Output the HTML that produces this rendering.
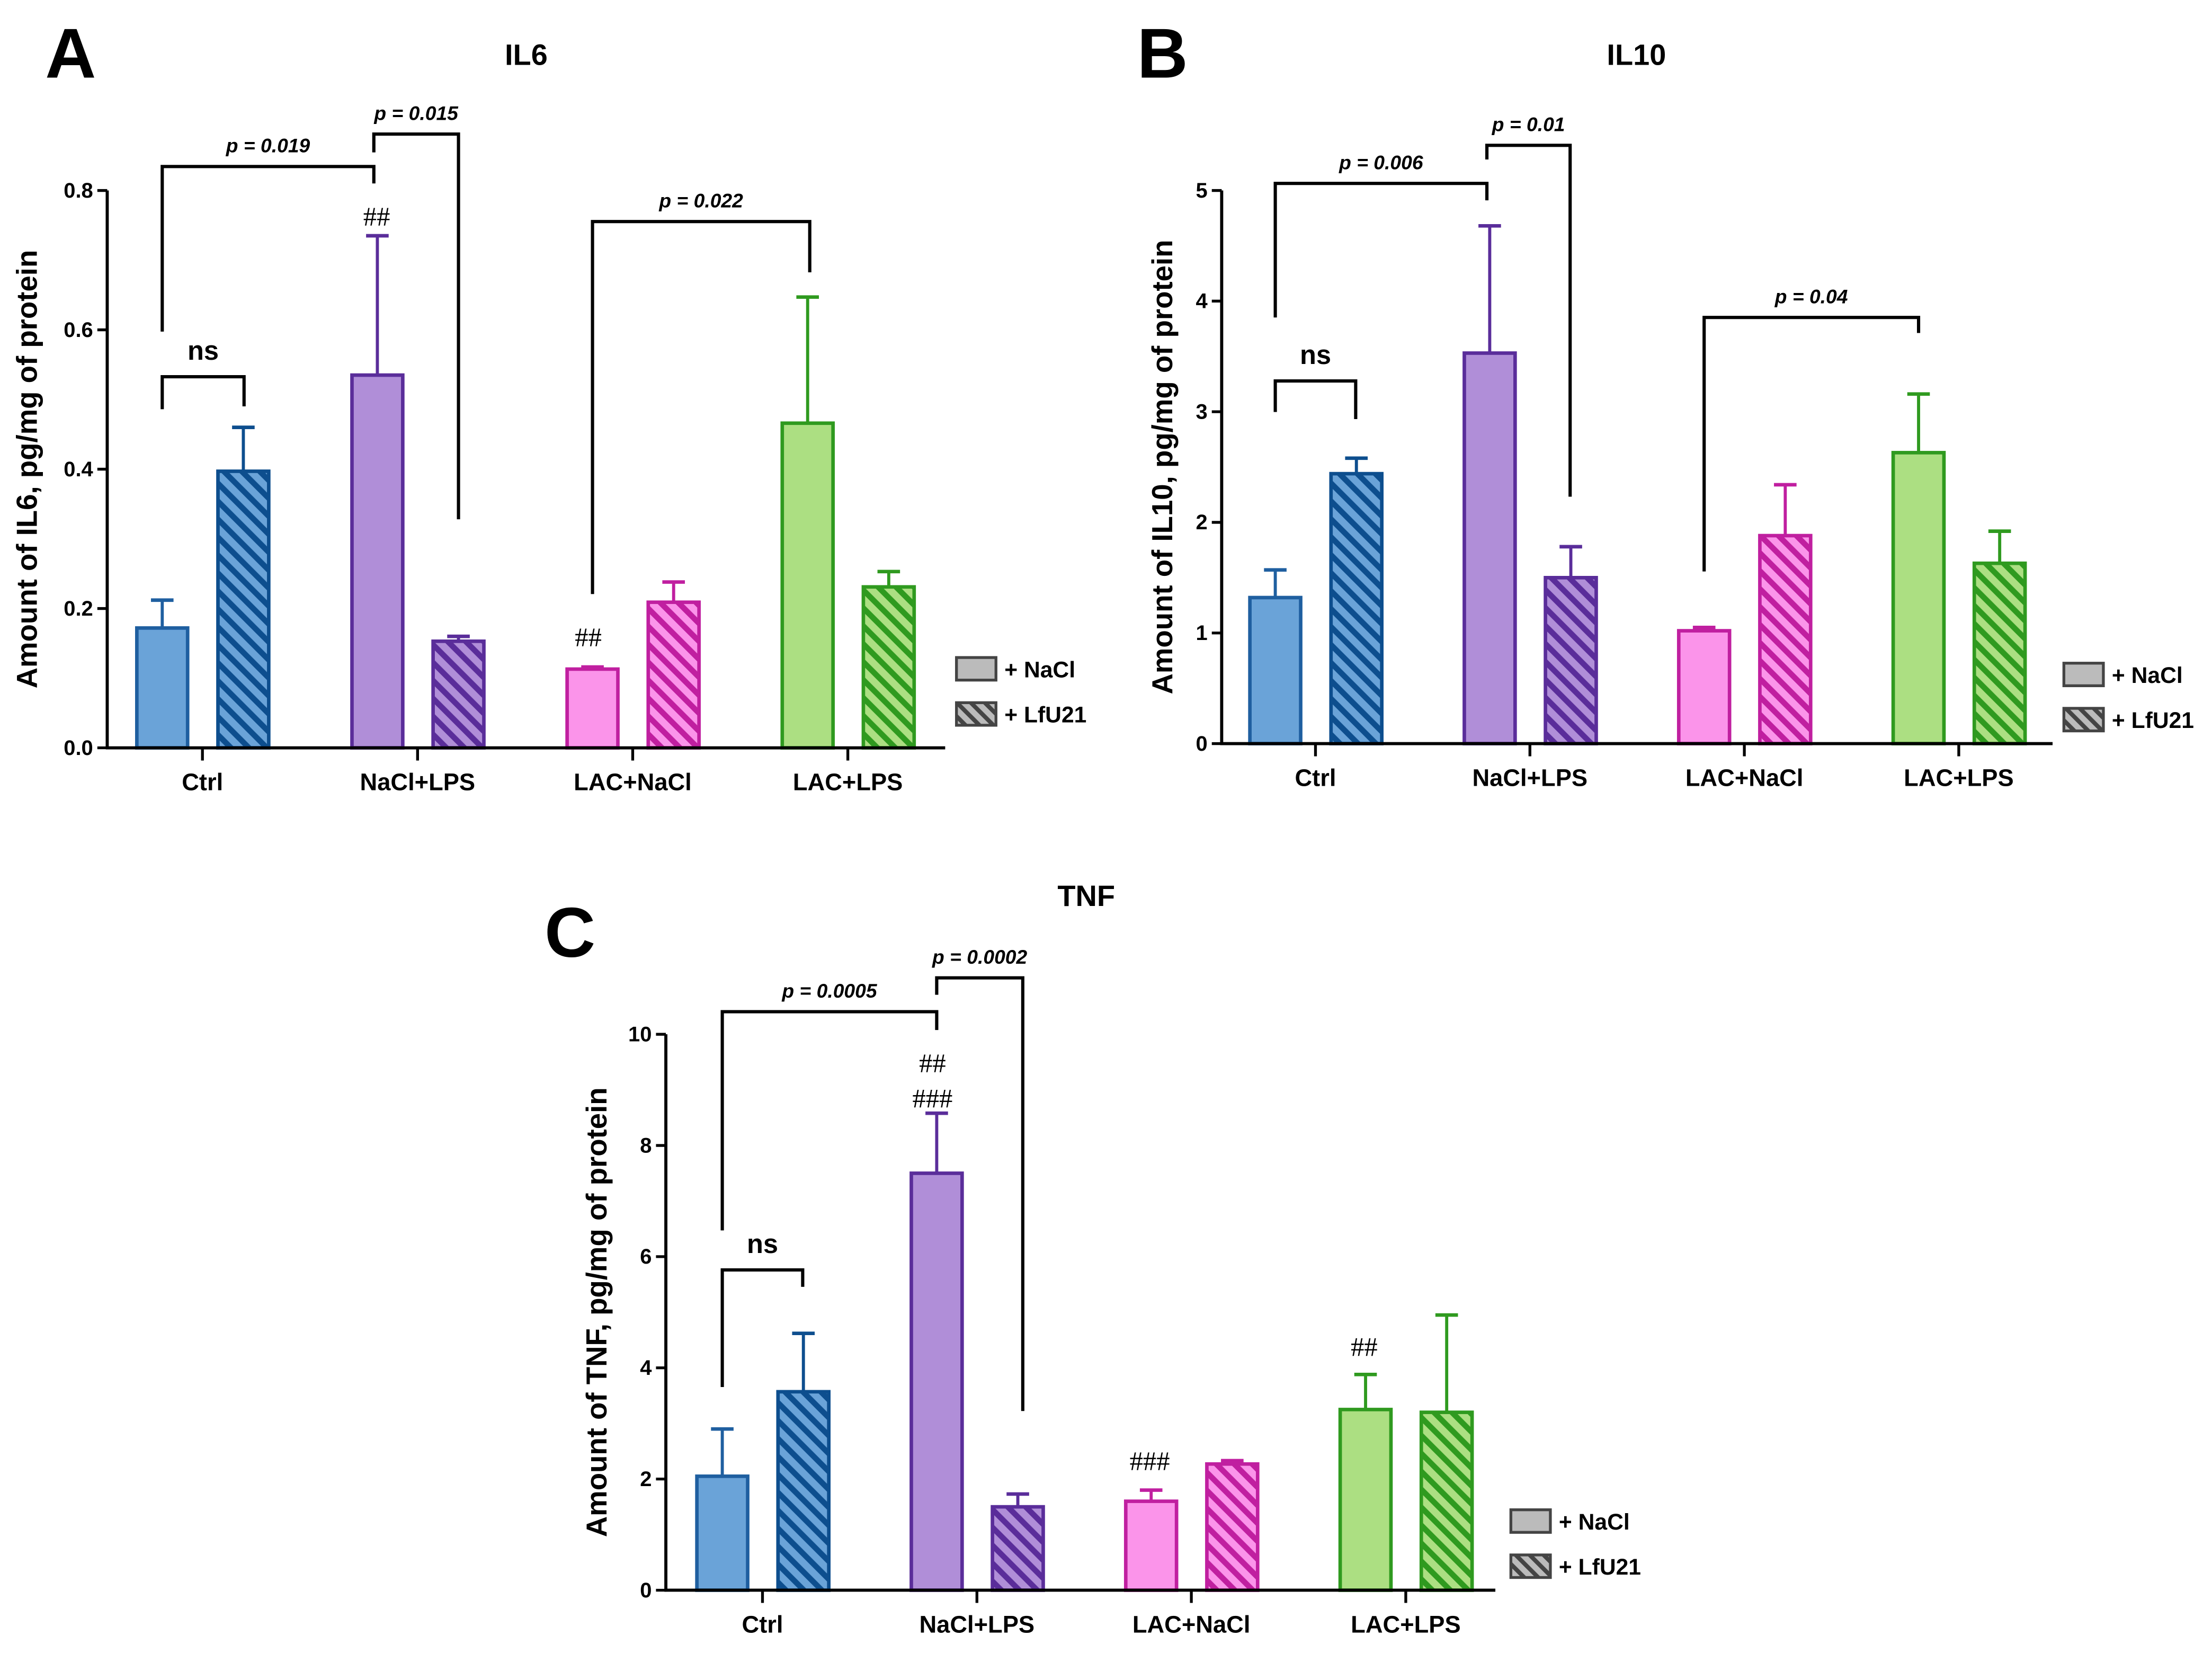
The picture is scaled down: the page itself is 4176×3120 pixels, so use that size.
<!DOCTYPE html>
<html><head><meta charset="utf-8">
<style>
html,body{margin:0;padding:0;background:#fff;}
svg{display:block;}
.t{font-family:"Liberation Sans Narrow","Liberation Sans",sans-serif;font-weight:bold;}
.w{font-family:"Liberation Sans",sans-serif;font-weight:bold;}
.h{font-family:"Liberation Serif",serif;}
</style></head>
<body>
<svg id="fig" width="4176" height="3120" viewBox="0 0 1568 1171.5" xmlns="http://www.w3.org/2000/svg">
<defs>
<pattern id="hb" patternUnits="userSpaceOnUse" width="9" height="9" patternTransform="rotate(-45)"><rect width="9" height="9" fill="#6aa3d8"/><rect width="4" height="9" fill="#0d4e8e"/></pattern>
<pattern id="hp" patternUnits="userSpaceOnUse" width="9" height="9" patternTransform="rotate(-45)"><rect width="9" height="9" fill="#b08ed8"/><rect width="4" height="9" fill="#5a2d9a"/></pattern>
<pattern id="hk" patternUnits="userSpaceOnUse" width="9" height="9" patternTransform="rotate(-45)"><rect width="9" height="9" fill="#fb94ea"/><rect width="4" height="9" fill="#c01fa0"/></pattern>
<pattern id="hg" patternUnits="userSpaceOnUse" width="9" height="9" patternTransform="rotate(-45)"><rect width="9" height="9" fill="#acdf82"/><rect width="4" height="9" fill="#2f9a1f"/></pattern>
<pattern id="hgr" patternUnits="userSpaceOnUse" width="7" height="7" patternTransform="rotate(-45)"><rect width="7" height="7" fill="#bbb"/><rect width="3" height="7" fill="#444"/></pattern>
</defs>
</svg>
<script>
const categories = ["Ctrl","NaCl+LPS","LAC+NaCl","LAC+LPS"];
const il6Nacl = [0.172,0.535,0.113,0.466];
const il6NaclErr = [0.212,0.735,0.116,0.647];
const il6Lfu = [0.397,0.153,0.209,0.231];
const il6LfuErr = [0.460,0.160,0.238,0.253];
const il6Ticks = [0,0.2,0.4,0.6,0.8];
const il6TickLabels = ["0.0","0.2","0.4","0.6","0.8"];
const il10Nacl = [1.32,3.53,1.02,2.63];
const il10NaclErr = [1.57,4.68,1.05,3.16];
const il10Lfu = [2.44,1.50,1.88,1.63];
const il10LfuErr = [2.58,1.78,2.34,1.92];
const il10Ticks = [0,1,2,3,4,5];
const il10TickLabels = ["0","1","2","3","4","5"];
const tnfNacl = [2.05,7.5,1.6,3.25];
const tnfNaclErr = [2.9,8.58,1.8,3.88];
const tnfLfu = [3.57,1.5,2.27,3.2];
const tnfLfuErr = [4.62,1.73,2.33,4.95];
const tnfTicks = [0,2,4,6,8,10];
const tnfTickLabels = ["0","2","4","6","8","10"];

const NS="http://www.w3.org/2000/svg";
const svg=document.getElementById('fig');
const fills=["#6aa3d8","#b08ed8","#fb94ea","#acdf82"];
const strokes=["#1f5fa0","#5a2d9a","#c01fa0","#2f9a1f"];
const hstrokes=["#0d4e8e","#5a2d9a","#c01fa0","#2f9a1f"];
const hpat=["url(#hb)","url(#hp)","url(#hk)","url(#hg)"];
function mk(tag,attrs,parent,text){const e=document.createElementNS(NS,tag);for(const k in attrs)e.setAttribute(k,attrs[k]);if(text!==undefined)e.textContent=text;(parent||svg).appendChild(e);return e;}

function panel(p){
  const g=mk('g',{});
  
  
  const y=v=>p.y0-(v/p.ymax)*(p.y0-p.ytop);
  const cx=i=>p.c0+i*p.step;
  const L=mk('text',{x:p.lx,y:p.ly,'font-size':50,class:'w'},g,p.letter);
  
  
  const T=mk('text',{x:p.tx,y:p.ty,'font-size':21,class:'w','text-anchor':'middle'},g,p.title);
  
  
  for(let i=0;i<categories.length;i++){
    const xa=cx(i), xb=cx(i)+57.5, bw=36;
    [[xa,p.nacl[i],p.naclErr[i],fills[i],strokes[i],'nacl'],[xb,p.lfu[i],p.lfuErr[i],hpat[i],hstrokes[i],'lfu21']].forEach(b=>{
      const [bx,v,e,f,s,k]=b;
      const ln=mk('line',{x1:bx,x2:bx,y1:y(v),y2:y(e),stroke:s,'stroke-width':2.2},g);
      
      
      mk('line',{x1:bx-8,x2:bx+8,y1:y(e),y2:y(e),stroke:s,'stroke-width':2.5},g);
      const r=mk('rect',{x:bx-bw/2,y:y(v),width:bw,height:y(0)-y(v),fill:f,stroke:s,'stroke-width':2.5},g);
      
      
    });
  }
  const ya=mk('line',{x1:p.ax,x2:p.ax,y1:p.ytop,y2:p.y0+1,stroke:'#000','stroke-width':2.2},g);
  
  
  const xa=mk('line',{x1:p.ax-1,x2:p.xend,y1:p.y0,y2:p.y0,stroke:'#000','stroke-width':2.2},g);
  
  
  p.ticks.forEach((t,j)=>{
    mk('line',{x1:p.ax-7,x2:p.ax,y1:y(t),y2:y(t),stroke:'#000','stroke-width':2},g);
    const tl=mk('text',{x:p.ax-10,y:y(t)+5,'font-size':15,class:'t','text-anchor':'end'},g,p.tickLabels[j]);
    
    
  });
  categories.forEach((c,i)=>{
    const tx=cx(i)+28.5;
    mk('line',{x1:tx,x2:tx,y1:p.y0,y2:p.y0+9,stroke:'#000','stroke-width':2},g);
    const cl=mk('text',{x:tx,y:p.y0+30,'font-size':17,class:'t','text-anchor':'middle'},g,c);
    
    
  });
  const yt=mk('text',{x:0,y:0,'font-size':20.5,class:'w','text-anchor':'middle',transform:`translate(${p.ytx},${(p.ytop+p.y0)/2}) rotate(-90)`},g,p.ytitle);
  
  
  p.brackets.forEach(b=>{
    const [x1,x2,by,l1,l2,lab,ital]=b;
    const pl=mk('polyline',{points:`${x1},${l1} ${x1},${by} ${x2},${by} ${x2},${l2}`,fill:'none',stroke:'#000','stroke-width':2.3},g);
    
    
    const bt=mk('text',{x:(x1+x2)/2,y:by-(ital?10:12),'font-size':ital?14:19,class:'t','text-anchor':'middle','font-style':ital?'italic':'normal'},g,lab);
    
    
  });
  p.hashes.forEach(h=>{
    const ht=mk('text',{x:h[0],y:h[1],'font-size':19,class:'h','text-anchor':'middle'},g,h[2]);
    
    
  });
  [[p.lgy,'#bbb','+ NaCl','legend-nacl'],[p.lgy+32,'url(#hgr)','+ LfU21','legend-lfu21']].forEach(l=>{
    const lg=mk('g',{},g);
    
    
    mk('rect',{x:p.lgx,y:l[0],width:28,height:16,fill:l[1],stroke:'#444','stroke-width':2},lg);
    mk('text',{x:p.lgx+34,y:l[0]+14,'font-size':16,class:'t'},lg,l[2]);
  });
}

panel({name:'il6',letter:'A',lx:32,ly:55,title:'IL6',tx:373,ty:46,ax:76,ytop:135,y0:530,ymax:0.8,xend:670,c0:115,step:152.5,
  nacl:il6Nacl,naclErr:il6NaclErr,lfu:il6Lfu,lfuErr:il6LfuErr,ticks:il6Ticks,tickLabels:il6TickLabels,ytx:26,ytitle:'Amount of IL6, pg/mg of protein',
  brackets:[[115,265,118,235,130,'p = 0.019',1],[265,325,95,108,368,'p = 0.015',1],[115,173,267,290,288,'ns',0],[420,574,157,421,193,'p = 0.022',1]],
  hashes:[[267,160,'##'],[417,458,'##']],lgx:678,lgy:466});
panel({name:'il10',letter:'B',lx:806,ly:55,title:'IL10',tx:1160,ty:46,ax:866,ytop:135,y0:527,ymax:5,xend:1455,c0:904,step:152,
  nacl:il10Nacl,naclErr:il10NaclErr,lfu:il10Lfu,lfuErr:il10LfuErr,ticks:il10Ticks,tickLabels:il10TickLabels,ytx:831,ytitle:'Amount of IL10, pg/mg of protein',
  brackets:[[904,1054,130,225,142,'p = 0.006',1],[1054,1113,103,113,352,'p = 0.01',1],[904,961,270,292,297,'ns',0],[1208,1360,225,405,236,'p = 0.04',1]],
  hashes:[],lgx:1463,lgy:470});
panel({name:'tnf',letter:'C',lx:386,ly:678,title:'TNF',tx:770,ty:642,ax:472,ytop:733,y0:1127,ymax:10,xend:1060,c0:512,step:152,
  nacl:tnfNacl,naclErr:tnfNaclErr,lfu:tnfLfu,lfuErr:tnfLfuErr,ticks:tnfTicks,tickLabels:tnfTickLabels,ytx:430,ytitle:'Amount of TNF, pg/mg of protein',
  brackets:[[512,664,717,872,730,'p = 0.0005',1],[664,725,693,705,1000,'p = 0.0002',1],[512,569,900,983,912,'ns',0]],
  hashes:[[661,760,'##'],[661,785,'###'],[815,1042,'###'],[967,961,'##']],lgx:1071,lgy:1070});
</script>
</body></html>
